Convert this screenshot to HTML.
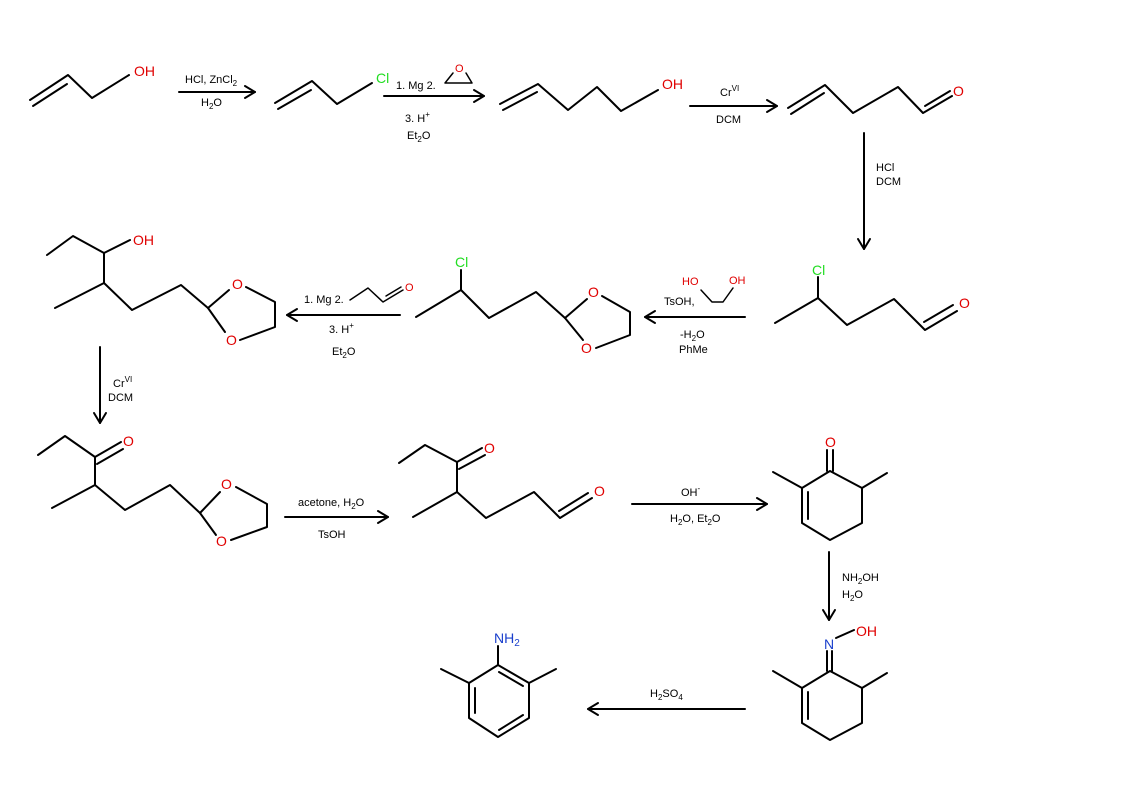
<!DOCTYPE html>
<html><head><meta charset="utf-8"><style>
html,body{margin:0;padding:0;background:#fff;}
svg{display:block;}
text{font-family:"Liberation Sans",sans-serif;}
.r{font-size:11px;fill:#000;}
.a{font-size:14px;}
.O{fill:#e00000;}
.Cl{fill:#22dd22;}
.N{fill:#1a3fcc;}
</style></head><body>
<svg width="1123" height="794" viewBox="0 0 1123 794" xmlns="http://www.w3.org/2000/svg">
<g stroke="#000" stroke-width="2" fill="none" stroke-linecap="round" stroke-linejoin="round">
<polyline points="30,100 68,75 92,98 129,75"/>
<line x1="33" y1="106" x2="67" y2="84"/>
<line x1="179" y1="92" x2="255" y2="92"/><polyline points="245,86 255,92 245,98"/>
<polyline points="275,103 312,81 337,104 372,83"/>
<line x1="278" y1="109" x2="311" y2="90"/>
<line x1="384" y1="96" x2="484" y2="96"/><polyline points="474,90 484,96 474,102"/>
<polyline stroke-width="1.5" points="453,73 445,83 472,83 466,73"/>
<polyline points="500,104 538,84 568,110 597,87 621,111 658,90"/>
<line x1="503" y1="110" x2="537" y2="92"/>
<line x1="690" y1="106" x2="777" y2="106"/><polyline points="767,100 777,106 767,112"/>
<polyline points="788,108 825,85 853,113 898,87 923,113 952,96"/>
<line x1="791" y1="114" x2="824" y2="93"/>
<line x1="925" y1="106" x2="950" y2="91"/>
<line x1="864" y1="133" x2="864" y2="249"/><polyline points="858,239 864,249 870,239"/>
<line x1="818" y1="298" x2="818" y2="277"/>
<polyline points="775,323 818,298 847,325 894,299 925,330 957,311"/>
<line x1="924" y1="322" x2="953" y2="305"/>
<line x1="745" y1="317" x2="645" y2="317"/><polyline points="655,311 645,317 655,323"/>
<polyline stroke-width="1.5" points="701,290 712,302 723,302 733,288"/>
<line x1="461" y1="290" x2="461" y2="270"/>
<polyline points="416,317 461,290 489,318 536,292 565,318 587,299"/>
<line x1="565" y1="318" x2="583" y2="340"/>
<polyline points="602,296 630,312 630,335 596,348"/>
<line x1="400" y1="315" x2="287" y2="315"/><polyline points="297,309 287,315 297,321"/>
<polyline stroke-width="1.5" points="350,300 368,288 383,302 403,290"/>
<line stroke-width="1.5" x1="386" y1="296" x2="401" y2="287"/>
<polyline points="47,255 73,236 104,253 130,240"/>
<polyline points="104,253 104,283 55,308"/>
<polyline points="104,283 132,310 181,285 208,308 229,290"/>
<line x1="208" y1="308" x2="225" y2="332"/>
<polyline points="246,287 275,302 275,327 240,340"/>
<line x1="100" y1="347" x2="100" y2="423"/><polyline points="94,413 100,423 106,413"/>
<polyline points="38,455 65,436 95,457 121,442"/>
<line x1="97" y1="464" x2="123" y2="449"/>
<polyline points="95,457 95,485 52,508"/>
<polyline points="95,485 125,510 170,485 200,513 220,492"/>
<line x1="200" y1="513" x2="216" y2="535"/>
<polyline points="236,487 267,504 267,527 231,540"/>
<line x1="285" y1="517" x2="388" y2="517"/><polyline points="378,511 388,517 378,523"/>
<polyline points="399,463 425,445 457,462 482,448"/>
<line x1="459" y1="469" x2="485" y2="455"/>
<polyline points="457,462 457,492 413,517"/>
<polyline points="457,492 486,518 534,492 560,518 592,498"/>
<line x1="559" y1="511" x2="588" y2="493"/>
<line x1="632" y1="504" x2="767" y2="504"/><polyline points="757,498 767,504 757,510"/>
<line x1="827" y1="471" x2="827" y2="450"/>
<line x1="833" y1="471" x2="833" y2="450"/>
<polyline points="830,471 862,488 862,523 830,540 802,523 802,488 830,471"/>
<line x1="808" y1="492" x2="808" y2="519"/>
<line x1="862" y1="488" x2="887" y2="473"/>
<line x1="802" y1="488" x2="773" y2="472"/>
<line x1="829" y1="552" x2="829" y2="620"/><polyline points="823,610 829,620 835,610"/>
<line x1="827" y1="671" x2="827" y2="651"/>
<line x1="832" y1="671" x2="832" y2="651"/>
<line x1="836" y1="638" x2="854" y2="630"/>
<polyline points="830,671 862,688 862,723 830,740 802,723 802,688 830,671"/>
<line x1="808" y1="692" x2="808" y2="719"/>
<line x1="862" y1="688" x2="887" y2="673"/>
<line x1="802" y1="688" x2="773" y2="671"/>
<line x1="745" y1="709" x2="588" y2="709"/><polyline points="598,703 588,709 598,715"/>
<line x1="498" y1="665" x2="498" y2="646"/>
<polygon points="498,665 529,683 529,718 498,737 469,718 469,683"/>
<line x1="499" y1="672" x2="523" y2="686"/>
<line x1="523" y1="715" x2="499" y2="730"/>
<line x1="475" y1="688" x2="475" y2="713"/>
<line x1="529" y1="683" x2="556" y2="669"/>
<line x1="469" y1="683" x2="441" y2="669"/>
</g>
<text class="a O" x="134" y="76">OH</text>
<text class="a Cl" x="376" y="83">Cl</text>
<text class="a O" x="662" y="89">OH</text>
<text class="a O" x="953" y="96">O</text>
<text class="a Cl" x="812" y="275">Cl</text>
<text class="a O" x="959" y="308">O</text>
<text class="a Cl" x="455" y="267">Cl</text>
<text class="a O" x="588" y="297">O</text>
<text class="a O" x="581" y="353">O</text>
<text class="a O" x="133" y="245">OH</text>
<text class="a O" x="232" y="289">O</text>
<text class="a O" x="226" y="345">O</text>
<text class="a O" x="123" y="446">O</text>
<text class="a O" x="221" y="489">O</text>
<text class="a O" x="216" y="546">O</text>
<text class="a O" x="484" y="453">O</text>
<text class="a O" x="594" y="496">O</text>
<text class="a O" x="825" y="447">O</text>
<text class="a N" x="824" y="649">N</text>
<text class="a O" x="856" y="636">OH</text>
<text class="a N" x="494" y="643">NH<tspan font-size="10" dy="3">2</tspan></text>
<text class="r" x="185" y="83">HCl, ZnCl<tspan font-size="8" dy="3">2</tspan></text>
<text class="r" x="201" y="106">H<tspan font-size="8" dy="3">2</tspan><tspan dy="-3">O</tspan></text>
<text class="r" x="396" y="89">1. Mg 2.</text>
<text class="r O" x="455" y="72" font-size="11">O</text>
<text class="r" x="405" y="122">3. H<tspan font-size="8" dy="-5">+</tspan></text>
<text class="r" x="407" y="139">Et<tspan font-size="8" dy="3">2</tspan><tspan dy="-3">O</tspan></text>
<text class="r" x="720" y="96">Cr<tspan font-size="8" dy="-5">VI</tspan></text>
<text class="r" x="716" y="123">DCM</text>
<text class="r" x="876" y="171">HCl</text>
<text class="r" x="876" y="185">DCM</text>
<text class="r O" x="682" y="285">HO</text>
<text class="r O" x="729" y="284">OH</text>
<text class="r" x="664" y="305">TsOH,</text>
<text class="r" x="680" y="338">-H<tspan font-size="8" dy="3">2</tspan><tspan dy="-3">O</tspan></text>
<text class="r" x="679" y="353">PhMe</text>
<text class="r" x="304" y="303">1. Mg 2.</text>
<text class="r O" x="405" y="291">O</text>
<text class="r" x="329" y="333">3. H<tspan font-size="8" dy="-5">+</tspan></text>
<text class="r" x="332" y="355">Et<tspan font-size="8" dy="3">2</tspan><tspan dy="-3">O</tspan></text>
<text class="r" x="113" y="387">Cr<tspan font-size="8" dy="-5">VI</tspan></text>
<text class="r" x="108" y="401">DCM</text>
<text class="r" x="298" y="506">acetone, H<tspan font-size="8" dy="3">2</tspan><tspan dy="-3">O</tspan></text>
<text class="r" x="318" y="538">TsOH</text>
<text class="r" x="681" y="496">OH<tspan font-size="8" dy="-5">-</tspan></text>
<text class="r" x="670" y="522">H<tspan font-size="8" dy="3">2</tspan><tspan dy="-3">O, Et</tspan><tspan font-size="8" dy="3">2</tspan><tspan dy="-3">O</tspan></text>
<text class="r" x="842" y="581">NH<tspan font-size="8" dy="3">2</tspan><tspan dy="-3">OH</tspan></text>
<text class="r" x="842" y="598">H<tspan font-size="8" dy="3">2</tspan><tspan dy="-3">O</tspan></text>
<text class="r" x="650" y="697">H<tspan font-size="8" dy="3">2</tspan><tspan dy="-3">SO</tspan><tspan font-size="8" dy="3">4</tspan></text>
</svg>
</body></html>
